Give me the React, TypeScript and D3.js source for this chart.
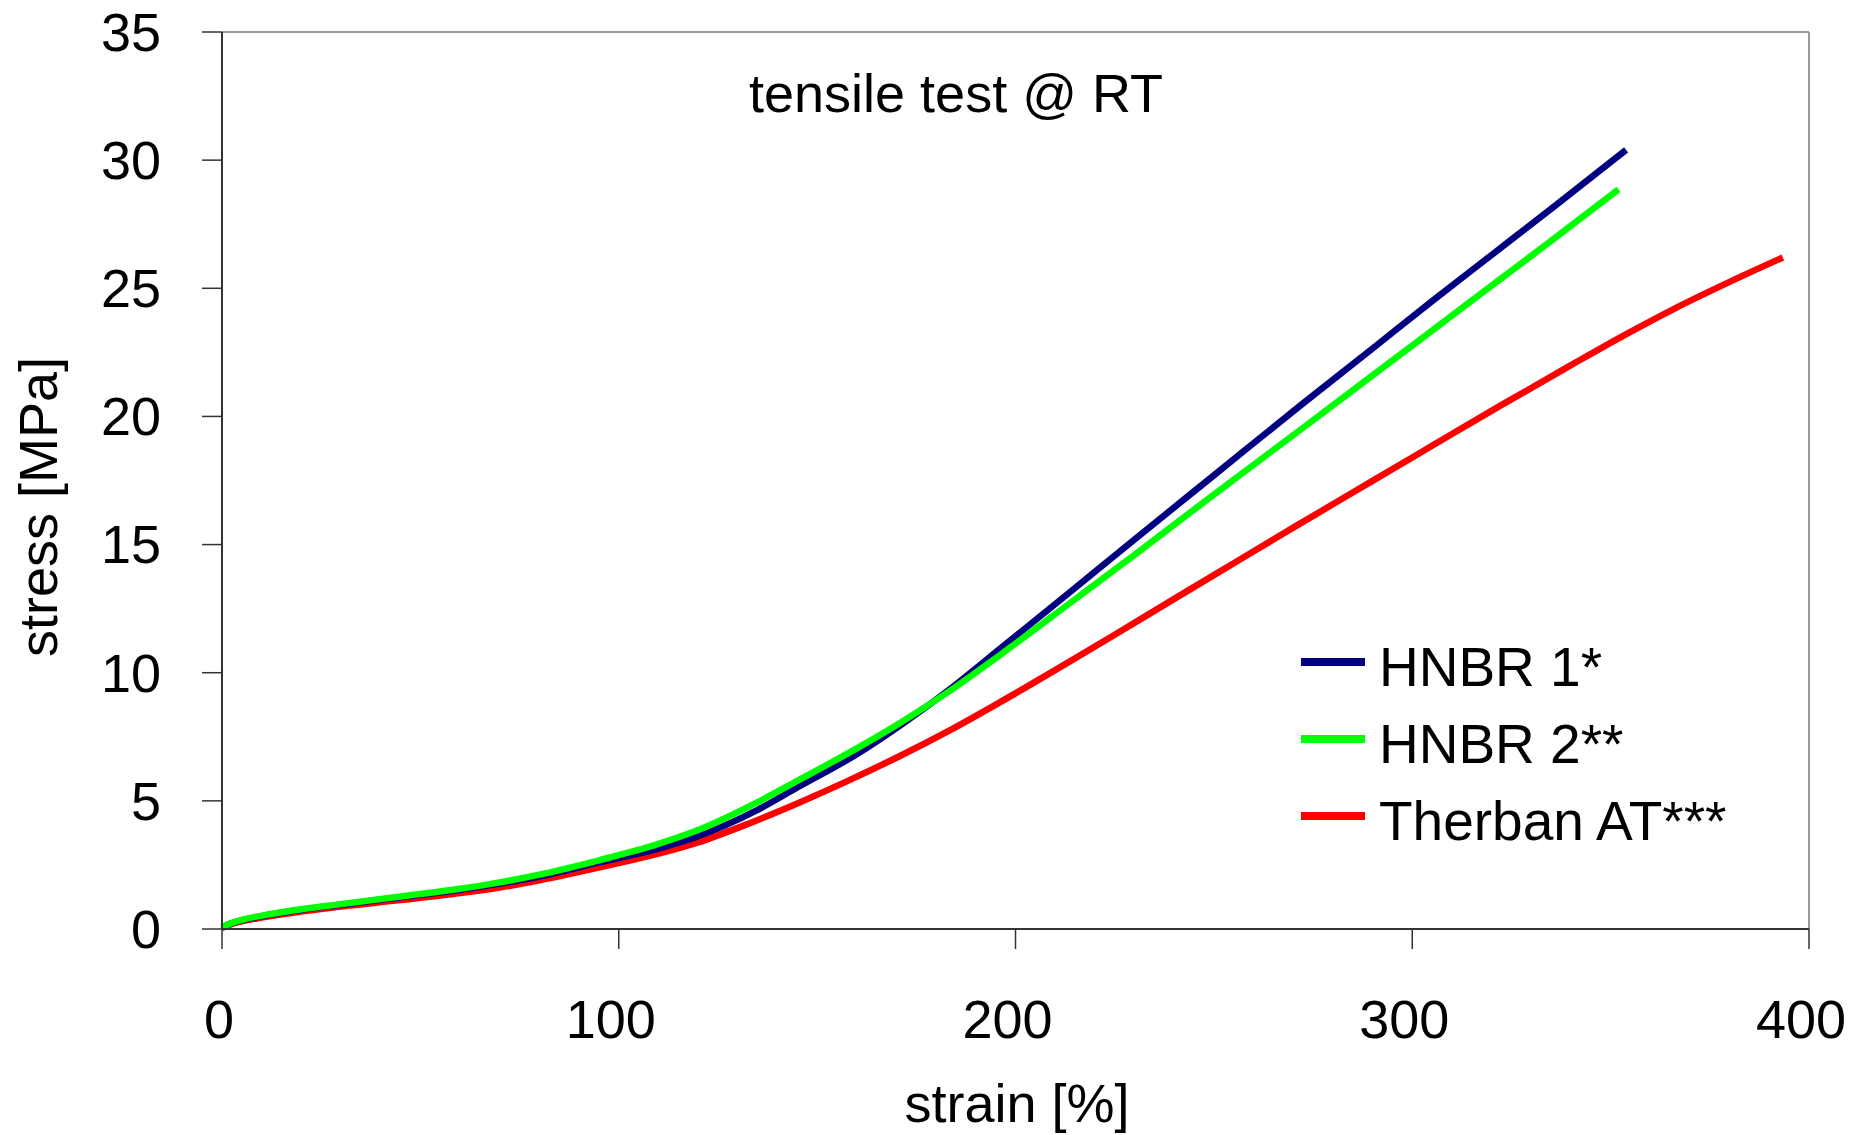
import React from 'react';
import * as d3 from 'd3';

// strain [%] / stress [MPa]
const hnbr1Strain = [0, 2, 5, 10, 20, 30, 45, 60, 70, 80, 95, 110, 120, 135, 145, 160, 171, 184, 196, 214, 230, 250, 272, 290, 305, 320, 335, 353.9];
const hnbr1Stress = [0.06, 0.2, 0.34, 0.5, 0.75, 0.95, 1.24, 1.53, 1.77, 2.05, 2.6, 3.14, 3.62, 4.65, 5.52, 6.82, 7.95, 9.42, 10.92, 13.18, 15.2, 17.7, 20.45, 22.65, 24.5, 26.3, 28.1, 30.4];

const hnbr2Strain = [0, 2, 5, 10, 20, 30, 45, 60, 70, 80, 95, 110, 120, 135, 145, 160, 171, 184, 196, 214, 230, 250, 272, 290, 314, 335, 352];
const hnbr2Stress = [0.07, 0.21, 0.36, 0.52, 0.77, 0.97, 1.27, 1.57, 1.82, 2.12, 2.68, 3.32, 3.86, 4.95, 5.78, 7.05, 8.05, 9.35, 10.68, 12.75, 14.6, 16.95, 19.5, 21.6, 24.4, 26.85, 28.86];

const therbanStrain = [0, 2, 5, 10, 20, 30, 45, 60, 70, 80, 95, 108, 120, 133, 145, 158, 171, 184, 196, 210, 225, 240, 255, 270, 285, 300, 322, 340, 355, 366, 380, 393.4];
const therbanStress = [0.04, 0.17, 0.3, 0.45, 0.68, 0.88, 1.13, 1.4, 1.62, 1.9, 2.4, 2.86, 3.38, 4.13, 4.9, 5.8, 6.76, 7.8, 8.84, 10.1, 11.48, 12.88, 14.27, 15.66, 17.03, 18.4, 20.4, 22.0, 23.3, 24.2, 25.25, 26.2];

const seriesNames = ['HNBR 1*', 'HNBR 2**', 'Therban AT***'];
const seriesColors = ['#000080', '#00ff00', '#ff0000'];

const xTicks = [0, 100, 200, 300, 400];
const yTicks = [0, 5, 10, 15, 20, 25, 30, 35];

const W = 1867;
const H = 1135;
const margin = { top: 32, right: 58, bottom: 206, left: 222 };
const FONT = '"Liberation Sans", Arial, sans-serif';

export default function App() {
  const innerW = W - margin.left - margin.right;
  const innerH = H - margin.top - margin.bottom;

  const x = d3.scaleLinear().domain([0, 400]).range([0, innerW]);
  const y = d3.scaleLinear().domain([0, 35]).range([innerH, 0]);

  const line = d3
    .line<[number, number]>()
    .x(d => x(d[0]))
    .y(d => y(d[1]))
    .curve(d3.curveMonotoneX);

  const series = [
    d3.zip(hnbr1Strain, hnbr1Stress) as [number, number][],
    d3.zip(hnbr2Strain, hnbr2Stress) as [number, number][],
    d3.zip(therbanStrain, therbanStress) as [number, number][],
  ];

  // red at the back, then blue, green on top
  const order = [2, 0, 1];

  return (
    <svg width={W} height={H} style={{ position: 'absolute', left: 0, top: 0, background: '#fff' }} fontFamily={FONT}>
      <g transform={`translate(${margin.left},${margin.top})`}>
        {/* frame: top and right in grey */}
        <line x1={0} x2={innerW} y1={0} y2={0} stroke="#999" strokeWidth={2} />
        <line x1={innerW} x2={innerW} y1={0} y2={innerH} stroke="#999" strokeWidth={2} />

        {order.map(i => (
          <path
            key={seriesNames[i]}
            d={line(series[i]) ?? ''}
            fill="none"
            stroke={seriesColors[i]}
            strokeWidth={6.5}
            strokeLinejoin="round"
          />
        ))}

        {/* axes */}
        <line x1={0} x2={0} y1={0} y2={innerH} stroke="#333" strokeWidth={2} />
        <line x1={0} x2={innerW} y1={innerH} y2={innerH} stroke="#333" strokeWidth={2} />

        {yTicks.map(t => (
          <g key={`y${t}`} transform={`translate(0,${y(t)})`}>
            <line x1={-20} x2={0} stroke="#333" strokeWidth={1.5} />
            <text x={-61} dy="0.35em" textAnchor="end" fontSize={54} fill="#000">
              {t}
            </text>
          </g>
        ))}

        {xTicks.map(t => (
          <g key={`x${t}`} transform={`translate(${x(t)},${innerH})`}>
            <line y1={0} y2={20} stroke="#333" strokeWidth={1.5} />
            <text x={t === 0 ? -3 : -8} y={109} textAnchor="middle" fontSize={54} fill="#000">
              {t}
            </text>
          </g>
        ))}

        <text x={734} y={80} textAnchor="middle" fontSize={54} fill="#000">
          tensile test @ RT
        </text>

        {/* legend */}
        {seriesNames.map((name, i) => (
          <g key={name} transform={`translate(1079,${630 + i * 77})`}>
            <line x1={0} x2={64} y1={0} y2={0} stroke={seriesColors[i]} strokeWidth={8} />
            <text x={78} y={24} fontSize={55} fill="#000">
              {name}
            </text>
          </g>
        ))}
      </g>

      <text x={1017} y={1122} textAnchor="middle" fontSize={54} fill="#000">
        strain [%]
      </text>
      <text
        transform={`translate(57,507) rotate(-90)`}
        textAnchor="middle"
        fontSize={54}
        fill="#000"
      >
        stress [MPa]
      </text>
    </svg>
  );
}
